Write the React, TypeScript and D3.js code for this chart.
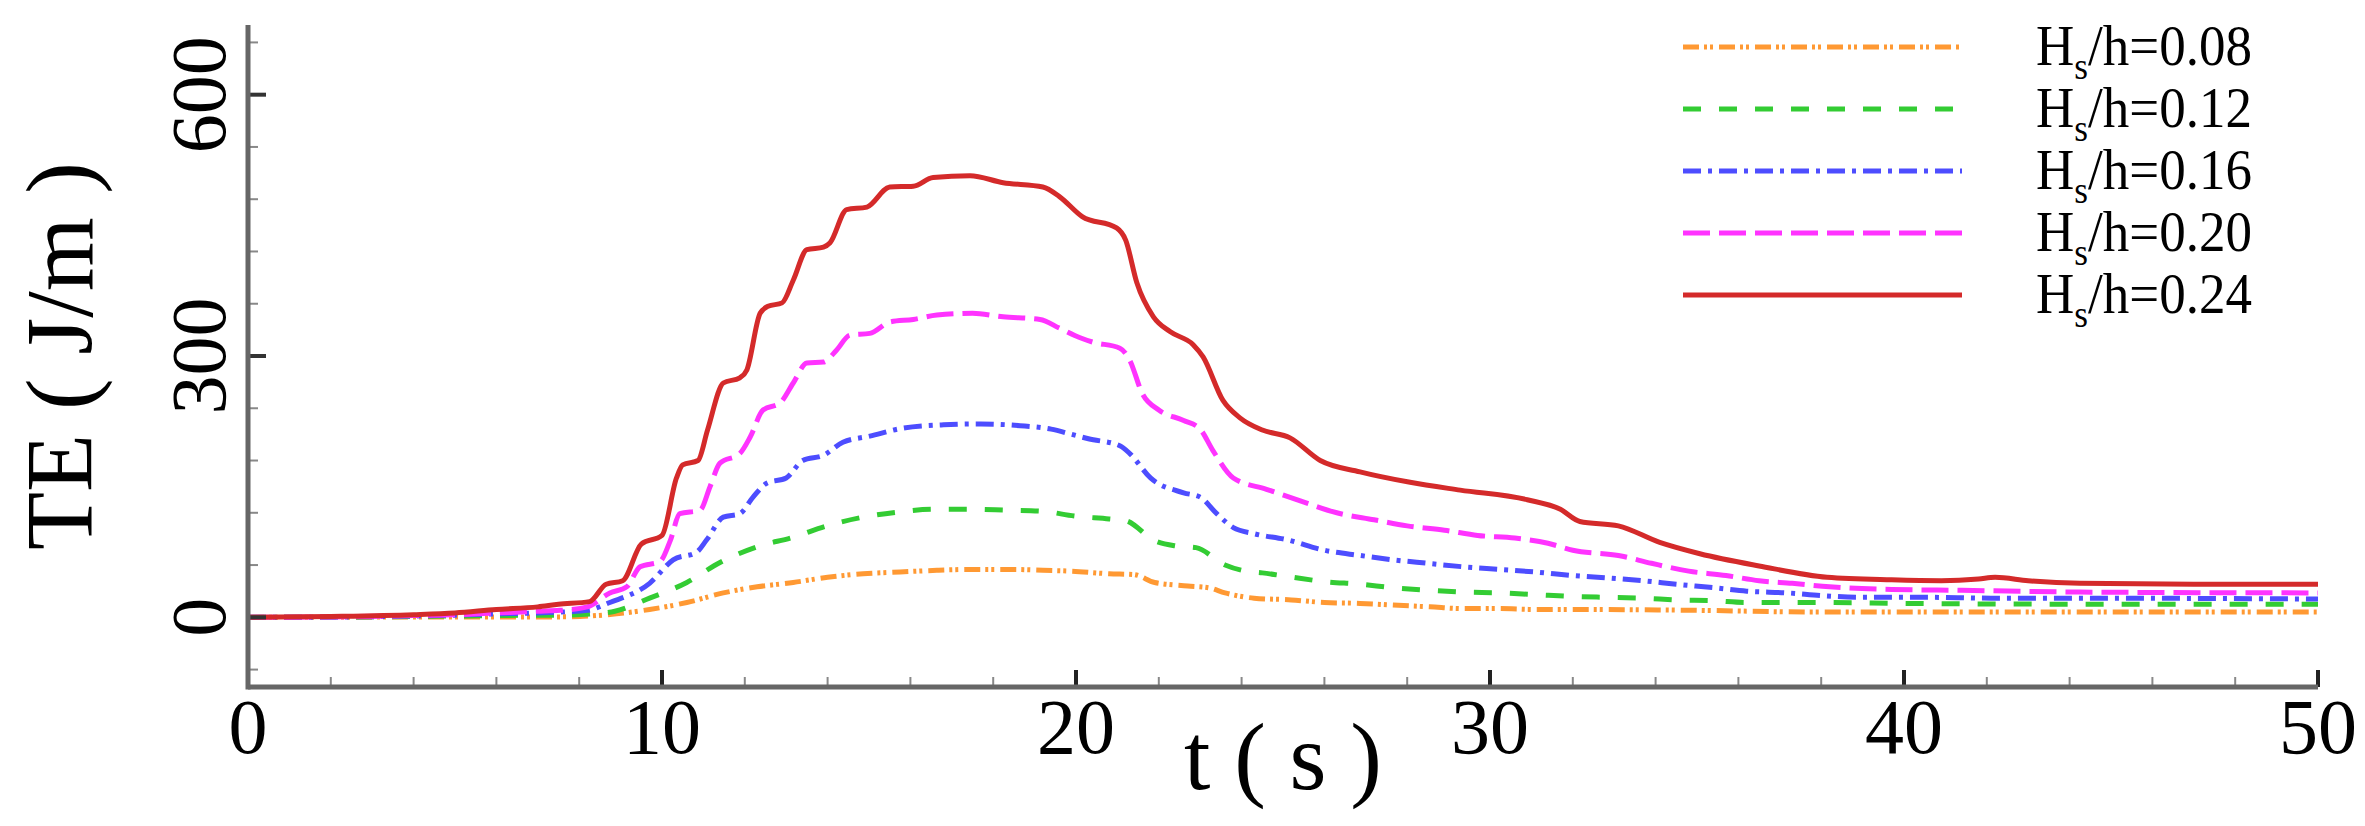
import React from 'react';
import * as d3 from 'd3';

// time (s) / total energy (J/m) pairs
const hs008: [number, number][] = [
  [0, 0], [4, 0.3], [6, 0.5], [7.54, 0.5], [8.9, 4], [9.7, 9], [10.6, 17], [11.48, 28], [12.3, 35],
  [13.17, 40], [14.0, 46], [14.86, 50], [15.75, 52], [16.64, 54], [17.5, 55], [18.4, 55], [19.2, 54],
  [19.9, 53], [20.8, 50], [21.4, 49], [21.9, 40], [22.7, 36], [23.2, 34], [23.6, 28], [24.3, 22],
  [25.2, 20], [26.0, 17], [26.86, 16], [27.66, 14], [28.55, 12], [29.35, 10], [30.24, 10], [31.1, 9],
  [32, 9], [35, 8], [38, 6], [50, 6],
];

const hs012: [number, number][] = [
  [0, 0], [2, 0.2], [4, 1], [5, 1.5], [6, 2], [7, 2.5], [7.54, 2.5], [8.3, 4], [8.86, 7], [9.7, 22],
  [10.6, 40], [11.4, 63], [12.3, 81], [13.17, 92], [13.98, 105], [14.86, 115], [15.75, 121],
  [16.55, 124], [17.44, 124], [18.33, 123], [19.13, 122], [20.0, 116], [20.8, 113], [21.2, 111],
  [21.9, 88], [22.4, 82], [22.9, 80], [23.6, 60], [24.1, 53], [24.5, 51], [25.1, 47], [26.0, 41],
  [26.86, 38], [27.66, 34], [28.55, 31], [29.35, 29], [30.24, 28], [31.1, 26], [32.0, 24], [32.8, 23],
  [33.7, 22], [34.5, 20], [35.4, 19], [36.2, 17], [38, 17], [40, 16], [45, 15], [50, 15],
];

const hs016: [number, number][] = [
  [0, 0], [2, 0.3], [4, 1.5], [5, 2.5], [6, 4], [7, 5], [7.54, 6], [8.2, 8], [8.74, 17], [9.7, 39],
  [10.27, 66], [10.84, 75], [11.08, 89], [11.48, 115], [11.88, 119], [12.2, 138], [12.53, 154],
  [13.0, 160], [13.4, 180], [13.9, 186], [14.37, 201], [15.02, 208], [15.8, 217], [16.8, 221],
  [17.7, 222], [18.65, 220], [19.4, 216], [19.9, 210], [20.3, 205], [21.06, 197], [21.3, 188],
  [21.8, 160], [22.6, 143], [23.0, 138], [23.4, 119], [23.8, 103], [24.3, 96], [25.1, 89], [26.0, 77],
  [26.86, 71], [27.66, 66], [28.5, 62], [29.35, 58], [30.24, 55], [31.1, 52], [32.0, 48], [32.9, 45],
  [33.7, 42], [34.5, 38], [35.4, 34], [36.2, 30], [37.2, 28], [38.0, 25], [38.9, 23], [40.5, 23],
  [42.1, 22], [44, 22], [50, 21],
];

const hs020: [number, number][] = [
  [0, 0], [2, 0.5], [4, 2], [5, 3], [6, 5], [7, 7], [7.54, 8], [8.2, 12], [8.74, 28], [9.15, 35],
  [9.47, 58], [9.95, 64], [10.2, 88], [10.43, 119], [10.92, 123], [11.16, 150], [11.4, 177],
  [11.88, 188], [12.13, 207], [12.44, 238], [12.85, 246], [13.17, 269], [13.5, 292], [13.9, 293],
  [14.22, 307], [14.54, 324], [15.02, 326], [15.5, 339], [16.07, 342], [16.64, 347], [17.5, 349],
  [18.24, 345], [19.13, 342], [19.6, 332], [20.1, 321], [20.4, 316], [21.06, 309], [21.3, 295],
  [21.6, 257], [22.0, 238], [22.6, 226], [23.0, 216], [23.3, 192], [23.8, 160], [24.6, 147],
  [25.4, 134], [26.3, 120], [27.2, 112], [28.0, 105], [28.9, 100], [29.7, 94], [30.6, 91], [31.4, 85],
  [32.0, 77], [33.1, 71], [33.9, 62], [34.8, 53], [35.7, 48], [36.5, 42], [37.3, 39], [38.2, 35],
  [39.7, 32], [41.4, 31], [44.25, 29], [50, 28],
];

const hs024: [number, number][] = [
  [0, 0], [2, 1], [4, 3], [5, 5], [6, 9], [7, 12], [7.5, 15], [8.25, 18], [8.65, 38], [9.05, 42],
  [9.5, 84], [10, 94], [10.35, 160], [10.5, 175], [10.87, 180], [11.1, 215], [11.48, 269],
  [11.88, 275], [12.05, 284], [12.37, 349], [12.56, 357], [12.9, 361], [13.17, 387], [13.5, 422],
  [13.9, 425], [14.06, 430], [14.46, 468], [14.95, 471], [15.5, 494], [16.07, 495], [16.55, 505],
  [17.44, 507], [18.24, 499], [19.2, 494], [19.6, 483], [20.15, 460], [20.98, 447], [21.2, 433],
  [21.47, 384], [21.87, 345], [22.27, 328], [22.83, 313], [23.07, 299], [23.55, 249], [23.96, 229],
  [24.5, 215], [25.17, 206], [25.9, 180], [26.86, 167], [28.07, 155], [29.28, 146], [30.9, 135],
  [31.7, 124], [32.17, 110], [33.1, 105], [34.1, 86], [35.07, 73], [36.5, 59], [38.14, 46],
  [39.7, 43], [40.9, 42], [41.8, 44], [42.2, 46], [43, 42], [44.25, 39], [47, 38], [50, 38],
];

const seriesLabels = ['0.08', '0.12', '0.16', '0.20', '0.24'];
const seriesData = [hs008, hs012, hs016, hs020, hs024];
const seriesColors = ['#FF9933', '#33CC33', '#4D4DFF', '#FF33FF', '#D42A2A'];
const seriesDash = ['16,5,3,3,3,6', '18,18', '18,7,4,7', '27,9', ''];

const xMajor = [0, 10, 20, 30, 40, 50];
const yMajor = [0, 300, 600];

const W = 2365;
const H = 826;
const FONT = '"Liberation Serif", "Times New Roman", serif';

const App: React.FC = () => {
  const x = d3.scaleLinear().domain([0, 50]).range([248, 2318]);
  const y = d3.scaleLinear().domain([-80, 680]).range([687, 25]);

  const line = d3.line<[number, number]>()
    .x(d => x(d[0]))
    .y(d => y(d[1]))
    .curve(d3.curveMonotoneX);

  const xMinor = d3.range(0, 51, 2).filter(v => v % 10 !== 0);
  const yMinor = d3.range(-60, 681, 60).filter(v => v % 300 !== 0);

  return (
    <svg
      width={W}
      height={H}
      viewBox={`0 0 ${W} ${H}`}
      style={{ position: 'absolute', left: 0, top: 0, background: '#fff' }}
    >
      {/* series */}
      <g fill="none">
        {seriesData.map((d, i) => (
          <path
            key={i}
            d={line(d) || ''}
            stroke={seriesColors[i]}
            strokeWidth={5}
            strokeDasharray={seriesDash[i] || undefined}
          />
        ))}
      </g>

      {/* axes */}
      <g>
        {xMinor.map(v => (
          <line key={'xm' + v} x1={x(v)} x2={x(v)} y1={y(-80)} y2={y(-80) - 10} stroke="#888" strokeWidth={2} />
        ))}
        {xMajor.map(v => (
          <line key={'xM' + v} x1={x(v)} x2={x(v)} y1={y(-80)} y2={y(-80) - 17} stroke="#222" strokeWidth={4} />
        ))}
        {yMinor.map(v => (
          <line key={'ym' + v} x1={x(0)} x2={x(0) + 10} y1={y(v)} y2={y(v)} stroke="#888" strokeWidth={2} />
        ))}
        {yMajor.map(v => (
          <line key={'yM' + v} x1={x(0)} x2={x(0) + 18} y1={y(v)} y2={y(v)} stroke="#333" strokeWidth={4} />
        ))}
        <line x1={x(0)} x2={x(50)} y1={y(-80)} y2={y(-80)} stroke="#666" strokeWidth={5} />
        <line x1={x(0)} x2={x(0)} y1={y(-80) + 2.5} y2={y(680)} stroke="#666" strokeWidth={5} />
      </g>

      {/* tick labels */}
      <g fontFamily={FONT} fontSize={78} fill="#000">
        {xMajor.map(v => (
          <text key={'xl' + v} x={x(v)} y={753} textAnchor="middle">{v}</text>
        ))}
        {yMajor.map(v => (
          <text key={'yl' + v} transform={`translate(225,${y(v)}) rotate(-90)`} textAnchor="middle">{v}</text>
        ))}
      </g>

      {/* axis titles */}
      <g fontFamily={FONT} fontSize={95} fill="#000">
        <text x={(x(0) + x(50)) / 2} y={789} textAnchor="middle">t ( s )</text>
        <text transform={`translate(92,${(y(-80) + y(680)) / 2}) rotate(-90)`} textAnchor="middle">TE ( J/m )</text>
      </g>

      {/* legend */}
      <g fontFamily={FONT} fontSize={57} fill="#000">
        {seriesLabels.map((s, i) => {
          const ly = 47 + i * 62;
          return (
            <g key={s}>
              <line
                x1={1683}
                x2={1962}
                y1={ly}
                y2={ly}
                stroke={seriesColors[i]}
                strokeWidth={5}
                strokeDasharray={seriesDash[i] || undefined}
              />
              <text transform={`translate(2036,${ly + 18}) scale(0.93,1)`}>
                <tspan>H</tspan>
                <tspan fontSize={38} dy={14}>s</tspan>
                <tspan dy={-14}>/h={s}</tspan>
              </text>
            </g>
          );
        })}
      </g>
    </svg>
  );
};

export default App;
